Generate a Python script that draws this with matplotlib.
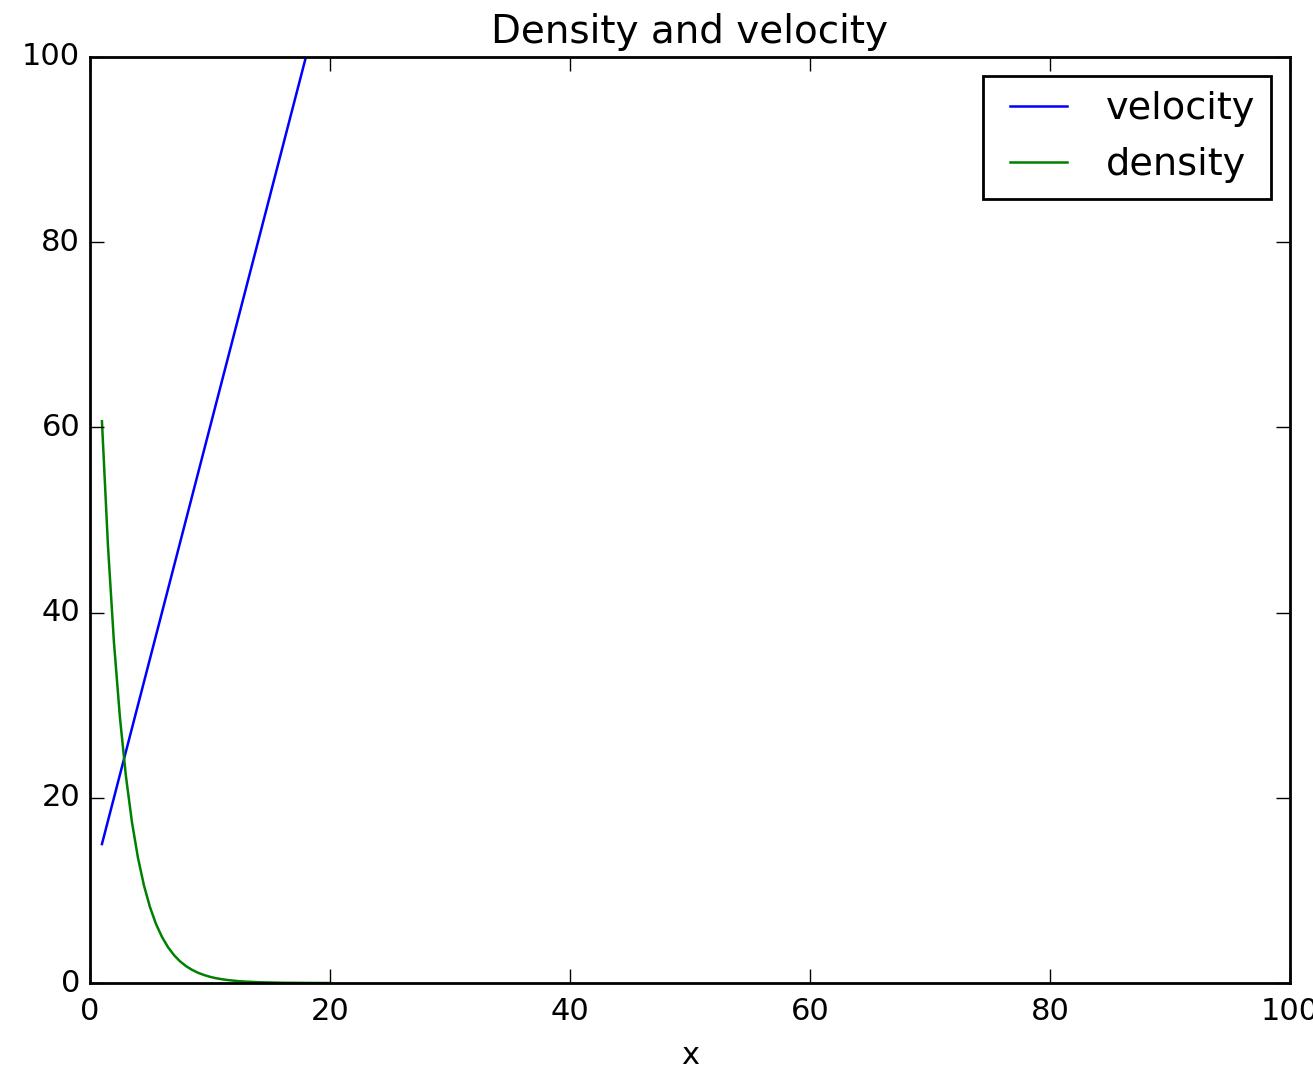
import matplotlib
matplotlib.use('Agg')
import matplotlib.pyplot as plt

plt.style.use('classic')

# velocity sampled at integer x
x_vel = [1, 2, 3, 4, 5, 6, 7, 8, 9, 10, 11, 12, 13, 14, 15, 16, 17, 18, 19, 20]
velocity = [15, 20, 25, 30, 35, 40, 45, 50, 55, 60,
            65, 70, 75, 80, 85, 90, 95, 100, 105, 110]

# density sampled on a finer grid
x_den = [1, 1.5, 2, 2.5, 3, 3.5, 4, 4.5, 5, 5.5, 6, 6.5, 7, 7.5, 8, 8.5,
         9, 9.5, 10, 10.5, 11, 11.5, 12, 12.5, 13, 13.5, 14, 14.5, 15,
         16, 17, 18, 20]
density = [60.65, 47.24, 36.79, 28.65, 22.31, 17.38, 13.53, 10.54, 8.21,
           6.39, 4.98, 3.88, 3.02, 2.35, 1.83, 1.43, 1.11, 0.87, 0.67,
           0.52, 0.41, 0.32, 0.25, 0.19, 0.15, 0.12, 0.09, 0.07, 0.06,
           0.03, 0.02, 0.01, 0.0]

fs = 22

fig = plt.figure(figsize=(13.13, 10.72), dpi=100)
ax = fig.add_axes([0.0685, 0.083, 0.914, 0.864])

ax.plot(x_vel, velocity, color='b', linewidth=1.8, label='velocity')
ax.plot(x_den, density, color='g', linewidth=1.8, label='density')

ax.set_xlim(0, 100)
ax.set_ylim(0, 100)
ax.set_title('Density and velocity', fontsize=28, pad=10)
ax.set_xlabel('x', fontsize=fs, labelpad=11)
ax.tick_params(labelsize=fs, length=10, width=1, pad=7)
ax.tick_params(axis='x', pad=10)
for s in ax.spines.values():
    s.set_linewidth(2)

leg = ax.legend(loc='upper right', fontsize=27.5, borderaxespad=0.5,
                handlelength=2.1, handletextpad=0.72, labelspacing=0.53,
                borderpad=0.4)
leg.get_frame().set_linewidth(2)

fig.savefig('out.png', dpi=100)
